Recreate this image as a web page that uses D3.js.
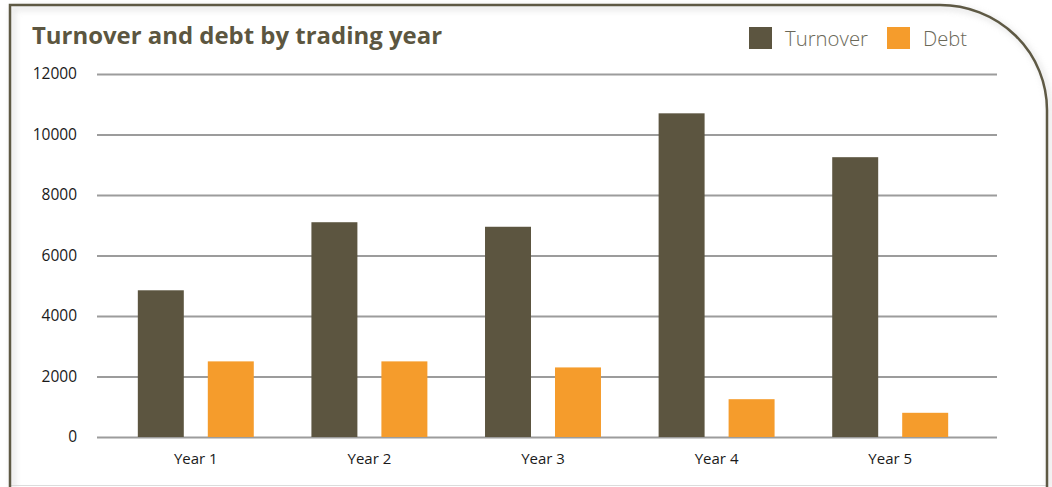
<!DOCTYPE html>
<html>
<head>
<meta charset="utf-8">
<script src="https://cdn.jsdelivr.net/npm/d3@7"></script>
<style>
  html, body { margin: 0; padding: 0; background: #fff; }
  svg { display: block; }
  text { font-family: "Open Sans", "Liberation Sans", sans-serif; }
</style>
</head>
<body>
<svg id="chart" width="1052" height="487"></svg>
<script>
const categories = ["Year 1", "Year 2", "Year 3", "Year 4", "Year 5"];
const seriesNames = ["Turnover", "Debt"];
const turnover = [4850, 7100, 6950, 10700, 9250];
const debt = [2500, 2500, 2300, 1250, 800];
const yTicks = [0, 2000, 4000, 6000, 8000, 10000, 12000];
const colors = ["#5c5540", "#f59c2c"];
const title = "Turnover and debt by trading year";

const svg = d3.select("#chart");
const W = 1052, H = 487;

svg.append("rect").attr("width", W).attr("height", H).attr("fill", "#fff");

// shadow + frame
const defs = svg.append("defs");
const f = defs.append("filter").attr("id", "sh").attr("x", "-10%").attr("y", "-10%").attr("width", "120%").attr("height", "120%");
f.append("feGaussianBlur").attr("stdDeviation", 3);

const framePath = "M10,487 L10,5 L940,5 A107,105 0 0 1 1047,110 L1047,487";
svg.append("path").attr("d", framePath).attr("fill", "none")
  .attr("stroke", "#bdbdbd").attr("stroke-width", 3).attr("opacity", 0.6)
  .attr("transform", "translate(3,3)").attr("filter", "url(#sh)");
svg.append("line").attr("x1", 10).attr("x2", 1047).attr("y1", 485.5).attr("y2", 485.5)
  .attr("stroke", "#dcdcdc").attr("stroke-width", 1);
svg.append("path").attr("d", framePath).attr("fill", "none")
  .attr("stroke", "#5e5944").attr("stroke-width", 2.5);

// scales
const y = d3.scaleLinear().domain([0, 12000]).range([437, 74]);
const x0 = d3.scaleBand().domain(categories).range([109, 977]).paddingInner(0.332).paddingOuter(0.166);
const x1 = d3.scaleBand().domain(seriesNames).range([0, x0.bandwidth()]).paddingInner(0.343);

// gridlines + y labels
const yAxis = d3.axisLeft(y).tickValues(yTicks).tickSize(-900).tickPadding(20).tickFormat(d3.format("d"));
const gy = svg.append("g").attr("transform", "translate(97,0)").call(yAxis);
gy.select(".domain").remove();
gy.selectAll(".tick line").attr("stroke", "#9c9c9c").attr("stroke-width", 2);
gy.selectAll(".tick text").attr("font-size", 15.5).attr("fill", "#1a1a1a").attr("x", -20)
  .attr("font-family", "'Open Sans', sans-serif");

// bars
const data = categories.map((c, i) => ({ cat: c, vals: [turnover[i], debt[i]] }));
const groups = svg.append("g").selectAll("g").data(data).join("g")
  .attr("transform", d => `translate(${x0(d.cat)},0)`);
groups.selectAll("rect").data(d => d.vals.map((v, j) => ({ key: seriesNames[j], v, j })))
  .join("rect")
  .attr("x", d => x1(d.key))
  .attr("width", x1.bandwidth())
  .attr("y", d => y(d.v))
  .attr("height", d => y(0) - y(d.v))
  .attr("fill", d => colors[d.j]);

// x labels
const xAxis = d3.axisBottom(x0).tickSize(0).tickPadding(16);
const gx = svg.append("g").attr("transform", "translate(0,437)").call(xAxis);
gx.select(".domain").remove();
gx.selectAll(".tick text").attr("font-size", 15).attr("fill", "#1a1a1a")
  .attr("font-family", "'Open Sans', sans-serif");

// title
svg.append("text").attr("x", 32).attr("y", 44).text(title)
  .attr("font-size", 24).attr("font-weight", "bold").attr("fill", "#5c5640")
  .attr("textLength", 410).attr("lengthAdjust", "spacingAndGlyphs");

// legend
const legendX = [749, 887];
const legendTextX = [785, 923];
const legendW = [83, 44];
seriesNames.forEach((n, i) => {
  svg.append("rect").attr("x", legendX[i]).attr("y", 27).attr("width", 23).attr("height", 22).attr("fill", colors[i]);
  svg.append("text").attr("x", legendTextX[i]).attr("y", 46).text(n)
    .attr("font-size", 21).attr("font-weight", 300).attr("fill", "#6a6858")
    .attr("textLength", legendW[i]).attr("lengthAdjust", "spacingAndGlyphs");
});
</script>
</body>
</html>
